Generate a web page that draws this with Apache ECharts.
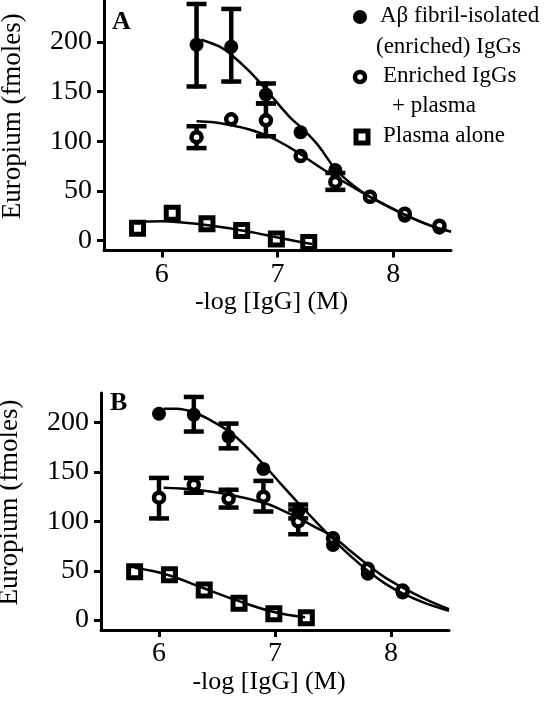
<!DOCTYPE html>
<html><head><meta charset="utf-8">
<script src="https://cdn.jsdelivr.net/npm/echarts@6/dist/echarts.min.js"></script>
<style>html,body{margin:0;padding:0;background:#fff}#c{width:546px;height:707px}</style>
</head><body><div id="c"></div>
<script>
// ---- ticks ----
const xTicks = [6, 7, 8];
const yTicks = [0, 50, 100, 150, 200];
const xTitle = '-log [IgG] (M)';
const yTitle = 'Europium (fmoles)';
const legendNames = ['A\u03b2 fibril-isolated', '(enriched) IgGs', 'Enriched IgGs', '+ plasma', 'Plasma alone'];

// ---- Panel A data ----
const aFilledX = [6.3, 6.6, 6.9, 7.2, 7.5, 7.8, 8.1, 8.4];
const aFilledY = [197, 195, 147, 109, 71, 44, 25, 13];
const aFilledLo = [155, 160, 138, null, null, null, null, null];
const aFilledHi = [238, 233, 158, null, null, null, null, null];
const aOpenX = [6.3, 6.6, 6.9, 7.2, 7.5, 7.8, 8.1, 8.4];
const aOpenY = [104, 122, 121, 85, 59, 44, 27, 15];
const aOpenLo = [93, null, 105, null, 51, null, null, null];
const aOpenHi = [115, null, 138, null, 68, null, null, null];
const aSqX = [5.79, 6.09, 6.39, 6.69, 6.99, 7.27];
const aSqY = [12.5, 27.5, 17, 10, 1.5, -2];
// fitted curves
const aFilledCurveX = [6.34, 6.5, 6.6, 6.76, 6.9, 7.1, 7.22, 7.35, 7.5, 7.65, 7.8, 8.1, 8.3, 8.5];
const aFilledCurveY = [202, 195, 187, 170, 152, 125, 112, 96, 72, 56, 44, 26, 16, 9];
const aOpenCurveX = [6.3, 6.45, 6.6, 6.75, 6.93, 7.1, 7.21, 7.35, 7.5, 7.65, 7.8, 8.1, 8.3, 8.5];
const aOpenCurveY = [120, 119, 116, 112, 104.5, 94, 86, 75, 64, 54, 44, 26, 16, 9];
const aSqCurveX = [5.8, 6.0, 6.2, 6.4, 6.6, 6.8, 7.0, 7.2, 7.3];
const aSqCurveY = [19, 19.5, 18, 15.5, 12, 8, 3, -1.5, -3.5];

// ---- Panel B data ----
const bFilledX = [6.0, 6.3, 6.6, 6.9, 7.2, 7.5, 7.8, 8.1];
const bFilledY = [209, 208, 186, 153, 110, 76, 47, 28];
const bFilledLo = [null, 191, 174, null, 103, null, null, null];
const bFilledHi = [null, 226, 199, null, 117, null, null, null];
const bOpenX = [6.0, 6.3, 6.6, 6.9, 7.2, 7.5, 7.8, 8.1];
const bOpenY = [124, 137, 123, 125, 100, 83, 52, 30];
const bOpenLo = [103, 129, 114, 110, 87, null, null, null];
const bOpenHi = [144, 144, 132, 141, 112, null, null, null];
const bSqX = [5.79, 6.09, 6.39, 6.69, 6.99, 7.27];
const bSqY = [49, 46, 30.5, 17, 6.5, 2.5];
const bFilledCurveX = [6.04, 6.15, 6.31, 6.45, 6.61, 6.75, 6.91, 7.05, 7.2, 7.35, 7.5, 7.65, 7.81, 7.95, 8.1, 8.3, 8.5];
const bFilledCurveY = [214, 214, 210, 202, 190.5, 176, 156.6, 138, 118.6, 100, 82, 65, 49, 37, 27, 17, 9.5];
const bOpenCurveX = [6.04, 6.31, 6.61, 6.91, 7.05, 7.2, 7.35, 7.5, 7.65, 7.81, 7.95, 8.1, 8.3, 8.5];
const bOpenCurveY = [134, 132, 127, 118.6, 112, 103.4, 94, 84.7, 70, 55, 43, 33, 21, 11];
const bSqCurveX = [5.79, 6.07, 6.37, 6.67, 6.98, 7.26];
const bSqCurveY = [53, 46, 33, 20, 8.5, 3];

const FONT = 'Liberation Serif';
const zip = (xs, ys) => xs.map((x, i) => [x, ys[i]]);
const errs = (xs, lo, hi) => xs.map((x, i) => lo[i] == null ? null : [x, lo[i], hi[i]]).filter(Boolean);

function errRender(params, api) {
  const x = api.value(0), lo = api.value(1), hi = api.value(2);
  const p1 = api.coord([x, hi]), p2 = api.coord([x, lo]);
  const hw = 10;
  const style = { stroke: '#000', lineWidth: 4.5, lineCap: 'butt' };
  return { type: 'group', children: [
    { type: 'line', shape: { x1: p1[0], y1: p1[1] - 2, x2: p2[0], y2: p2[1] + 2 }, style },
    { type: 'line', shape: { x1: p1[0] - hw, y1: p1[1], x2: p1[0] + hw, y2: p1[1] }, style },
    { type: 'line', shape: { x1: p2[0] - hw, y1: p2[1], x2: p2[0] + hw, y2: p2[1] }, style }
  ]};
}

function axes(gi, ymax) {
  const x = {
    gridIndex: gi, type: 'value', min: 5.5, max: 8.5,
    axisLine: { show: true, onZero: false, lineStyle: { color: '#000', width: 3 } },
    axisTick: { show: true, customValues: xTicks, length: 7, lineStyle: { color: '#000', width: 3 } },
    axisLabel: { customValues: xTicks, fontFamily: FONT, fontSize: 28, color: '#000', margin: 10 },
    splitLine: { show: false },
    name: xTitle, nameLocation: 'middle', nameGap: 38,
    nameTextStyle: { fontFamily: FONT, fontSize: 26, color: '#000', padding: [0, 12, 0, 0] }
  };
  const y = {
    gridIndex: gi, type: 'value', min: -10, max: ymax,
    axisLine: { show: true, onZero: false, lineStyle: { color: '#000', width: 3 } },
    axisTick: { show: true, customValues: yTicks, length: 7, lineStyle: { color: '#000', width: 3 } },
    axisLabel: { customValues: yTicks, fontFamily: FONT, fontSize: 28, color: '#000', margin: 12 },
    splitLine: { show: false },
    name: yTitle, nameLocation: 'middle', nameGap: 78,
    nameTextStyle: { fontFamily: FONT, fontSize: 27, color: '#000', padding: [0, 0, 0, 18] }
  };
  return [x, y];
}

function panelSeries(gi, d) {
  const base = { xAxisIndex: gi, yAxisIndex: gi };
  const curve = (xs, ys) => Object.assign({ type: 'line', data: zip(xs, ys), smooth: 0.4, showSymbol: false, symbol: 'none',
    lineStyle: { color: '#000', width: 2.5, opacity: 1 }, z: 5, silent: true }, base);
  const err = (data) => Object.assign({ type: 'custom', renderItem: errRender, data: data, encode: { x: 0, y: [1, 2] }, z: 2, clip: false, silent: true }, base);
  return [
    err(errs(d.fx, d.flo, d.fhi)),
    err(errs(d.ox, d.olo, d.ohi)),
    Object.assign({ type: 'scatter', data: zip(d.fx, d.fy), symbol: 'circle', symbolSize: 14,
      itemStyle: { color: '#000', opacity: 1 }, z: 3, silent: true }, base),
    Object.assign({ type: 'scatter', data: zip(d.ox, d.oy), symbol: 'circle', symbolSize: 10,
      itemStyle: { color: '#fff', borderColor: '#000', borderWidth: 4.5, opacity: 1 }, z: 4, silent: true }, base),
    Object.assign({ type: 'scatter', data: zip(d.sx, d.sy), symbol: 'rect', symbolSize: 12,
      itemStyle: { color: '#fff', borderColor: '#000', borderWidth: 5, opacity: 1 }, z: 4, silent: true }, base),
    curve(d.fcx, d.fcy), curve(d.ocx, d.ocy), curve(d.scx, d.scy)
  ];
}

const axA = axes(0, 242), axB = axes(1, 230);
const option = {
  animation: false,
  backgroundColor: '#fff',
  textStyle: { fontFamily: FONT, color: '#000' },
  grid: [
    { left: 104, top: 0, width: 347, height: 250.5, containLabel: false, outerBoundsMode: 'none' },
    { left: 101, top: 393, width: 348, height: 237, containLabel: false, outerBoundsMode: 'none' }
  ],
  xAxis: [axA[0], axB[0]],
  yAxis: [axA[1], axB[1]],
  series: [].concat(
    panelSeries(0, { fx: aFilledX, fy: aFilledY, flo: aFilledLo, fhi: aFilledHi, ox: aOpenX, oy: aOpenY, olo: aOpenLo, ohi: aOpenHi,
      sx: aSqX, sy: aSqY, fcx: aFilledCurveX, fcy: aFilledCurveY, ocx: aOpenCurveX, ocy: aOpenCurveY, scx: aSqCurveX, scy: aSqCurveY }),
    panelSeries(1, { fx: bFilledX, fy: bFilledY, flo: bFilledLo, fhi: bFilledHi, ox: bOpenX, oy: bOpenY, olo: bOpenLo, ohi: bOpenHi,
      sx: bSqX, sy: bSqY, fcx: bFilledCurveX, fcy: bFilledCurveY, ocx: bOpenCurveX, ocy: bOpenCurveY, scx: bSqCurveX, scy: bSqCurveY })
  ),
  graphic: [
    { type: 'text', left: 112, top: 9, style: { text: 'A', font: 'bold 26px "Liberation Serif"', fill: '#000' } },
    { type: 'text', left: 110, top: 390, style: { text: 'B', font: 'bold 26px "Liberation Serif"', fill: '#000' } },
    // legend
    { type: 'circle', shape: { cx: 360, cy: 17, r: 7 }, style: { fill: '#000' } },
    { type: 'text', left: 380, top: 4, style: { text: legendNames[0], font: '23px "Liberation Serif"', fill: '#000' } },
    { type: 'text', left: 376, top: 35, style: { text: legendNames[1], font: '23px "Liberation Serif"', fill: '#000' } },
    { type: 'circle', shape: { cx: 360, cy: 77, r: 5 }, style: { fill: '#fff', stroke: '#000', lineWidth: 4.5 } },
    { type: 'text', left: 383, top: 64, style: { text: legendNames[2], font: '23px "Liberation Serif"', fill: '#000' } },
    { type: 'text', left: 392, top: 94, style: { text: legendNames[3], font: '23px "Liberation Serif"', fill: '#000' } },
    { type: 'rect', shape: { x: 356, y: 131, width: 12, height: 12 }, style: { fill: '#fff', stroke: '#000', lineWidth: 5 } },
    { type: 'text', left: 383, top: 124, style: { text: legendNames[4], font: '23px "Liberation Serif"', fill: '#000' } }
  ]
};
const chart = echarts.init(document.getElementById('c'), null, { renderer: 'canvas' });
chart.setOption(option);
</script></body></html>
